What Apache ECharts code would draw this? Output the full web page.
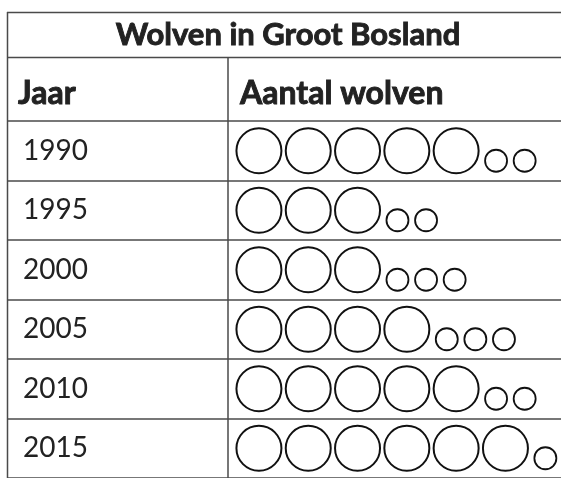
<!DOCTYPE html>
<html><head><meta charset="utf-8">
<script src="https://cdn.jsdelivr.net/npm/echarts@6/dist/echarts.min.js"></script>
<style>html,body{margin:0;padding:0;background:#fff}#c{width:561px;height:478px}</style>
</head><body><div id="c"></div>
<script>
// ---- data ----
const titleText = 'Wolven in Groot Bosland';
const headerYear = 'Jaar';
const headerCount = 'Aantal wolven';
const years = ['1990', '1995', '2000', '2005', '2010', '2015'];
const bigCircles = [5, 3, 3, 4, 5, 6];    // large wolf symbols per row
const smallCircles = [2, 2, 3, 3, 2, 1];  // small wolf symbols per row

// ---- layout (in units of one large-circle step) ----
const SMALL_GAP = 0.81, SMALL_STEP = 0.58;
const bigData = [], smallData = [];
years.forEach((y, r) => {
  for (let i = 0; i < bigCircles[r]; i++) bigData.push([i, y]);
  for (let j = 0; j < smallCircles[r]; j++) smallData.push([bigCircles[r] - 1 + SMALL_GAP + j * SMALL_STEP, y]);
});

const FONT = 'Lato';
const LINE = '#4a4a4a';
const boldStyle = {fontWeight: 'bold', fontFamily: FONT, fill: '#222', stroke: '#222', lineWidth: 0.9, textVerticalAlign: 'middle'};
const chart = echarts.init(document.getElementById('c'), null, {renderer: 'canvas'});
chart.setOption({
  animation: false,
  backgroundColor: '#fff',
  grid: {left: 7, right: 0, top: 121, height: 361.8, containLabel: false},
  xAxis: {type: 'value', min: -5.11, max: 6.127, show: false},
  yAxis: {
    type: 'category', data: years, inverse: true,
    axisLine: {show: false}, axisTick: {show: false},
    splitLine: {show: true, interval: 0, lineStyle: {color: LINE, width: 1.5}},
    axisLabel: {inside: true, align: 'left', margin: 16, fontSize: 28, fontFamily: FONT, color: '#222', interval: 0}
  },
  graphic: [
    {type: 'line', shape: {x1: 7.5, y1: 12, x2: 7.5, y2: 478}, style: {stroke: LINE, lineWidth: 1.5}},
    {type: 'line', shape: {x1: 7, y1: 12.5, x2: 561, y2: 12.5}, style: {stroke: LINE, lineWidth: 1.5}},
    {type: 'line', shape: {x1: 7, y1: 57.5, x2: 561, y2: 57.5}, style: {stroke: LINE, lineWidth: 1.5}},
    {type: 'line', shape: {x1: 228, y1: 57, x2: 228, y2: 478}, style: {stroke: LINE, lineWidth: 1.5}},
    {type: 'text', x: 288, y: 35, style: Object.assign({text: titleText, fontSize: 31, textAlign: 'center'}, boldStyle)},
    {type: 'text', x: 18, y: 94, style: Object.assign({text: headerYear, fontSize: 32, textAlign: 'left'}, boldStyle)},
    {type: 'text', x: 240, y: 94, style: Object.assign({text: headerCount, fontSize: 32, textAlign: 'left'}, boldStyle)}
  ],
  series: [
    {type: 'scatter', data: bigData, symbol: 'circle', symbolSize: 45,
     itemStyle: {color: '#fff', borderColor: '#111', borderWidth: 2, opacity: 1}, silent: true},
    {type: 'scatter', data: smallData, symbol: 'circle', symbolSize: 22, symbolOffset: [0, 10],
     itemStyle: {color: '#fff', borderColor: '#111', borderWidth: 1.8, opacity: 1}, silent: true}
  ]
});
</script></body></html>
